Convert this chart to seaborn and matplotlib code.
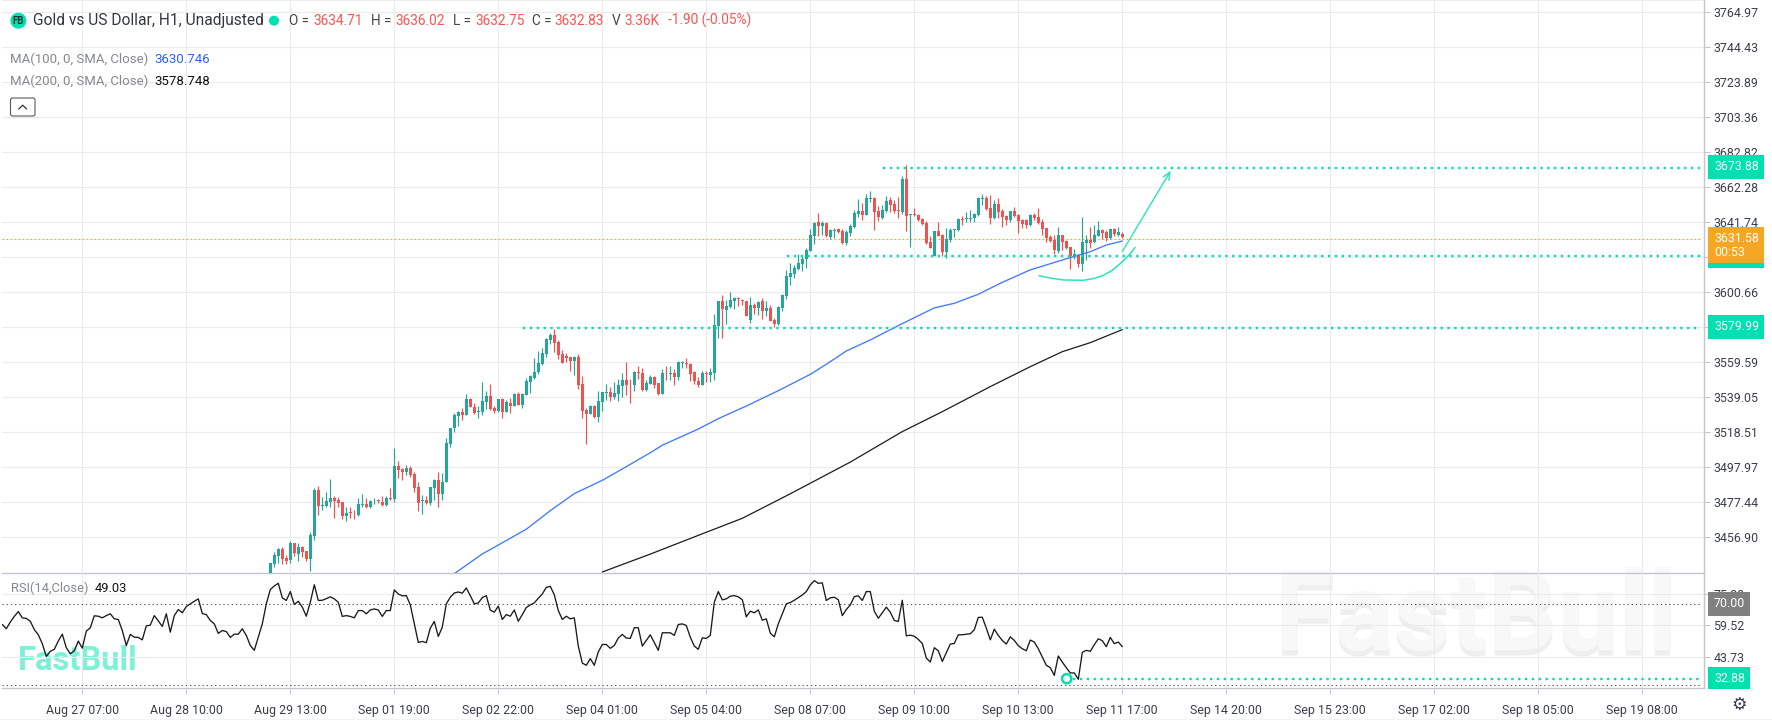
import numpy as np
import pandas as pd
import seaborn as sns
import matplotlib
matplotlib.use("Agg")
import matplotlib.pyplot as plt
from matplotlib.patches import Rectangle, Circle, FancyBboxPatch
import matplotlib.patheffects as pe

# ---------- data: hourly candles (first visible bar = 0) ----------
open_ = [3433.8,3441.2,3445.9,3450.0,3444.9,3443.6,3453.5,3447.1,3451.2,3448.9,
 3444.2,3457.6,3484.6,3475.5,3475.1,3477.6,3479.9,3478.8,3477.6,3469.4,
 3471.7,3471.3,3470.0,3476.0,3476.4,3474.7,3478.0,3478.6,3477.6,3475.9,
 3479.6,3479.6,3498.7,3497.0,3495.2,3497.6,3494.0,3486.4,3478.2,3478.8,
 3477.0,3486.0,3490.5,3482.3,3489.3,3511.6,3521.0,3528.1,3530.4,3528.7,
 3538.0,3533.3,3530.6,3530.4,3536.3,3539.8,3532.8,3531.0,3538.0,3530.4,
 3535.7,3533.9,3541.0,3534.5,3540.4,3548.0,3550.4,3553.9,3558.6,3564.4,
 3572.7,3575.6,3571.5,3564.5,3563.3,3562.7,3560.3,3562.7,3546.9,3531.6,
 3529.2,3533.9,3527.5,3536.3,3541.8,3542.1,3539.0,3541.0,3545.7,3549.2,
 3547.0,3546.3,3553.9,3553.3,3543.3,3546.9,3550.9,3547.4,3541.0,3553.3,
 3552.9,3553.3,3550.9,3559.4,3559.2,3558.6,3553.9,3548.6,3546.3,3553.5,
 3552.1,3553.3,3580.9,3595.6,3590.3,3592.0,3595.6,3597.3,3596.2,3595.6,
 3584.4,3593.2,3591.5,3595.6,3589.7,3591.5,3584.4,3581.9,3591.4,3598.5,
 3609.6,3611.4,3614.3,3617.3,3620.2,3624.9,3633.7,3641.9,3639.6,3641.3,
 3633.1,3636.8,3637.8,3636.7,3629.6,3635.5,3639.0,3646.6,3648.4,3646.0,
 3655.6,3656.0,3648.4,3644.3,3648.4,3654.8,3652.5,3648.9,3647.8,3667.1,
 3646.2,3646.8,3646.0,3643.7,3641.3,3630.2,3622.0,3636.6,3634.3,3624.3,
 3631.4,3637.2,3637.2,3643.7,3643.7,3643.9,3644.3,3646.0,3655.6,3656.0,
 3650.1,3644.3,3652.5,3648.4,3645.4,3643.1,3648.4,3646.0,3643.1,3643.1,
 3640.2,3646.0,3644.9,3641.9,3638.4,3633.1,3631.4,3624.9,3634.3,3630.8,
 3627.2,3621.4,3622.6,3617.3,3629.6,3631.4,3630.2,3633.7,3637.2,3636.1,
 3632.5,3637.8,3634.3,3634.71]
high_ = [3442.0,3448.5,3450.4,3451.0,3446.5,3454.5,3453.7,3453.3,3451.8,3449.0,
 3459.8,3485.6,3486.8,3480.3,3483.7,3490.9,3481.3,3480.7,3477.8,3474.9,
 3474.5,3472.9,3479.8,3482.1,3479.8,3478.8,3479.9,3479.2,3480.9,3480.9,
 3485.6,3509.1,3501.5,3497.4,3499.1,3498.5,3495.0,3489.1,3481.7,3481.1,
 3486.6,3491.1,3495.0,3494.6,3515.0,3521.0,3529.6,3531.0,3532.8,3540.8,
 3538.4,3535.5,3533.9,3547.8,3542.5,3546.7,3533.9,3538.2,3538.8,3537.5,
 3538.4,3541.6,3542.3,3541.6,3550.2,3552.3,3561.9,3566.4,3568.0,3573.6,
 3576.6,3578.9,3572.5,3566.6,3564.8,3562.9,3563.3,3564.2,3551.3,3532.8,
 3534.7,3534.5,3542.5,3542.2,3546.7,3545.3,3547.8,3549.8,3553.1,3559.8,
 3549.8,3554.5,3557.2,3556.2,3549.2,3551.9,3551.5,3547.5,3555.6,3557.2,
 3557.2,3555.6,3560.4,3560.4,3561.9,3559.0,3554.7,3550.9,3554.3,3554.3,
 3556.2,3587.7,3595.6,3599.1,3596.2,3600.6,3597.9,3597.9,3596.7,3595.8,
 3597.9,3594.6,3595.4,3597.5,3595.6,3593.2,3585.6,3592.4,3599.5,3613.8,
 3617.7,3616.7,3623.1,3621.9,3626.5,3637.6,3641.7,3647.0,3642.5,3641.9,
 3637.8,3638.2,3638.4,3637.6,3637.2,3640.7,3649.0,3655.4,3652.9,3658.2,
 3659.9,3656.4,3651.3,3651.9,3657.2,3656.8,3654.8,3656.4,3668.9,3675.4,
 3646.8,3650.0,3646.6,3644.3,3642.5,3633.7,3636.7,3641.9,3634.7,3638.4,
 3638.2,3638.0,3644.3,3645.6,3647.8,3649.0,3647.0,3656.6,3658.4,3657.2,
 3657.6,3654.8,3656.0,3649.5,3646.0,3648.4,3650.7,3646.6,3643.7,3643.7,
 3646.6,3647.0,3650.0,3643.7,3638.5,3634.3,3634.3,3639.0,3634.4,3631.4,
 3627.4,3626.1,3623.1,3644.7,3634.3,3638.8,3640.2,3642.7,3637.6,3637.2,
 3638.0,3638.2,3638.8,3636.02]
low_ = [3430.0,3439.6,3441.6,3441.2,3441.2,3442.0,3445.9,3443.2,3445.5,3443.2,
 3437.3,3455.3,3470.0,3472.9,3474.5,3474.5,3468.2,3474.9,3467.8,3466.6,
 3468.2,3467.8,3469.6,3474.5,3474.1,3474.3,3476.6,3477.2,3475.3,3475.5,
 3478.8,3477.6,3491.7,3490.5,3493.5,3492.5,3483.5,3472.3,3470.6,3476.4,
 3475.8,3478.8,3474.7,3478.8,3489.1,3509.9,3518.7,3522.2,3525.7,3528.6,
 3533.1,3529.2,3526.9,3528.7,3532.2,3531.6,3529.8,3530.6,3526.9,3530.2,
 3529.8,3533.8,3534.3,3532.6,3540.3,3541.6,3549.8,3552.7,3558.0,3562.9,
 3570.3,3565.6,3561.5,3559.1,3559.8,3554.5,3552.3,3543.9,3526.9,3511.6,
 3529.1,3526.9,3524.5,3531.0,3537.5,3536.9,3538.0,3536.9,3539.4,3540.4,
 3535.7,3542.7,3549.8,3542.9,3542.9,3546.8,3544.5,3540.4,3540.9,3549.2,
 3549.2,3546.3,3549.2,3556.2,3556.2,3548.6,3546.9,3545.1,3546.1,3548.2,
 3548.2,3549.2,3573.8,3573.8,3582.1,3591.4,3590.9,3592.6,3593.0,3586.6,
 3582.7,3587.9,3587.3,3585.0,3586.8,3583.6,3580.1,3581.3,3589.7,3596.7,
 3605.0,3609.1,3613.8,3613.2,3614.9,3624.8,3629.0,3633.7,3634.3,3633.1,
 3632.0,3632.5,3635.5,3629.0,3628.4,3633.7,3638.4,3644.9,3643.1,3645.9,
 3653.7,3637.2,3642.5,3643.7,3647.8,3647.6,3647.0,3644.3,3646.6,3636.6,
 3627.4,3645.4,3642.5,3640.2,3629.0,3626.5,3621.9,3633.5,3622.0,3620.8,
 3630.2,3632.9,3636.6,3640.2,3641.9,3641.9,3641.9,3645.4,3651.9,3649.0,
 3640.7,3643.7,3644.3,3639.0,3640.2,3641.9,3644.9,3635.5,3638.4,3638.4,
 3639.6,3643.1,3640.7,3634.3,3630.2,3630.2,3623.1,3623.5,3625.5,3626.1,
 3614.3,3620.2,3615.5,3613.2,3619.6,3626.7,3629.6,3633.6,3631.9,3631.0,
 3632.1,3633.7,3633.7,3632.75]
close_ = [3441.6,3446.5,3450.0,3444.2,3443.0,3453.7,3447.9,3451.2,3448.5,3444.2,
 3458.2,3484.6,3475.5,3475.9,3478.2,3479.9,3478.2,3477.0,3469.6,3471.1,
 3471.3,3470.9,3476.4,3476.4,3474.5,3478.2,3478.4,3478.4,3475.7,3479.9,
 3479.2,3498.7,3496.4,3495.2,3497.6,3493.5,3485.8,3477.2,3478.6,3476.8,
 3486.4,3490.5,3482.3,3489.3,3512.2,3521.0,3528.7,3530.4,3528.7,3538.0,
 3533.5,3529.8,3531.0,3536.9,3539.8,3532.2,3531.0,3538.0,3530.4,3536.3,
 3533.9,3541.0,3534.5,3541.0,3548.6,3551.5,3553.9,3559.2,3565.0,3573.2,
 3575.6,3570.9,3563.9,3559.2,3562.1,3560.3,3562.7,3546.3,3531.0,3529.2,
 3533.9,3527.5,3536.9,3542.1,3542.1,3539.2,3541.6,3546.3,3549.2,3546.3,
 3546.6,3553.9,3553.5,3543.3,3547.4,3550.9,3546.3,3541.0,3553.3,3553.1,
 3553.3,3550.9,3559.8,3559.8,3558.8,3552.7,3548.6,3546.3,3553.3,3552.9,
 3553.9,3581.5,3595.6,3590.9,3592.6,3596.2,3597.3,3596.9,3595.8,3586.8,
 3593.2,3591.5,3595.0,3589.7,3591.5,3583.8,3582.1,3592.0,3599.1,3610.2,
 3612.0,3614.9,3617.9,3620.2,3625.5,3634.3,3641.3,3639.6,3641.3,3633.7,
 3637.2,3637.2,3636.1,3629.6,3636.1,3639.6,3647.2,3648.4,3646.0,3656.0,
 3656.0,3647.8,3644.9,3648.9,3654.3,3651.9,3648.4,3648.4,3667.1,3645.6,
 3646.8,3646.2,3643.1,3640.7,3629.6,3626.7,3636.6,3633.7,3624.3,3631.9,
 3637.2,3637.6,3643.7,3643.3,3644.1,3644.3,3646.6,3656.0,3656.0,3649.5,
 3644.3,3652.5,3647.8,3644.9,3643.1,3648.4,3645.4,3642.5,3640.7,3640.2,
 3646.0,3644.3,3641.3,3637.8,3632.5,3630.8,3625.5,3634.3,3630.2,3626.7,
 3622.0,3623.1,3617.3,3630.2,3631.4,3629.6,3634.3,3637.2,3635.5,3632.5,
 3637.8,3634.9,3636.1,3632.83]

ma100_bar = [46,53,56,64,70,76,83,89,95,98,107,112,119,127,135,139,144,150,157,162,166,171,177,183,190,198,205,209,213]
ma100_val = [3435.5,3447.1,3451.0,3461.6,3472.5,3482.5,3490.3,3498.3,3506.5,3510.9,3520.4,3526.5,3533.9,3542.9,
             3552.5,3558.4,3566.2,3572.7,3581.1,3586.9,3591.5,3594.2,3599.5,3606.5,3613.8,3619.6,3624.5,3628.4,3630.746]
ma200_bar = [83,95,107,118,130,145,158,168,180,190,198,205,213]
ma200_val = [3436.5,3447.0,3458.0,3468.0,3482.4,3501.0,3518.9,3530.6,3545.3,3557.0,3565.8,3571.1,3578.748]

rsi_first_bar = -67
rsi_val = [60.0,57.9,61.2,64.0,66.4,63.3,63.0,61.6,57.5,54.9,
 50.5,44.2,46.7,47.7,51.8,55.2,48.5,45.5,47.0,51.8,
 48.3,56.7,58.4,64.3,64.1,63.3,64.4,65.3,62.8,62.5,
 57.0,49.6,55.1,53.7,53.6,52.4,59.3,59.7,64.4,61.8,
 59.0,65.3,56.2,64.4,67.4,65.8,68.9,70.2,71.5,72.7,
 65.4,64.9,62.0,60.3,55.6,57.0,56.5,53.6,55.2,55.2,
 57.9,54.6,49.6,47.2,53.7,60.3,70.2,77.3,79.1,80.4,
 73.2,71.9,76.3,69.9,71.5,68.6,64.1,71.0,79.7,71.9,
 72.0,72.8,73.7,72.7,71.0,64.0,64.4,64.0,63.3,66.9,
 66.9,65.3,67.2,67.7,67.2,64.0,66.9,66.9,77.1,75.1,
 74.2,74.3,69.7,60.3,51.1,51.6,51.0,58.2,61.5,54.1,
 58.7,70.2,73.5,75.6,76.1,75.5,78.1,74.3,70.2,70.7,
 73.3,74.3,67.1,66.1,69.1,62.5,64.9,64.1,67.2,61.6,
 64.9,68.4,69.7,70.7,73.0,75.1,78.4,78.9,74.7,66.9,
 62.5,64.1,62.8,63.3,49.3,40.9,39.8,43.1,39.8,46.4,
 50.1,50.1,48.2,49.6,53.3,55.1,53.3,53.1,58.4,58.4,
 49.3,52.1,54.9,51.0,47.2,55.9,55.9,55.9,54.6,60.0,
 60.3,59.5,53.7,49.3,47.7,53.4,53.1,54.6,71.0,76.3,
 72.2,72.7,74.0,74.3,73.7,72.3,63.8,66.6,65.8,67.2,
 62.1,62.8,55.7,53.9,60.3,65.3,70.2,70.9,72.0,73.3,
 74.6,76.3,79.6,81.7,80.4,80.6,71.9,73.2,73.5,72.3,
 64.4,67.4,69.7,73.8,74.2,71.9,76.3,76.3,66.6,63.1,
 65.8,68.6,66.1,62.0,61.5,72.0,54.4,54.7,54.2,52.6,
 50.6,43.4,41.4,48.5,47.0,41.7,46.0,50.3,50.6,54.9,
 54.9,55.2,55.4,57.4,63.5,63.6,58.2,52.4,57.7,54.6,
 52.1,50.3,53.9,52.1,49.5,48.0,47.0,52.3,51.3,48.0,
 43.9,39.8,38.6,34.8,44.4,41.4,38.6,36.0,36.0,32.88,
 46.2,47.2,46.7,50.0,52.9,52.0,49.0,53.6,50.5,51.3,49.03]

price_ticks = [3764.97,3744.43,3723.89,3703.36,3682.82,3662.28,3641.74,3621.20,3600.66,3580.12,
               3559.59,3539.05,3518.51,3497.97,3477.44,3456.90]
rsi_ticks = [75.30,59.52,43.73]
time_bars = [-47,-21,5,31,57,83,109,135,161,187,213,239,265,291,317,343]
time_labels = ["Aug 27 07:00","Aug 28 10:00","Aug 29 13:00","Sep 01 19:00","Sep 02 22:00","Sep 04 01:00",
               "Sep 05 04:00","Sep 08 07:00","Sep 09 10:00","Sep 10 13:00","Sep 11 17:00","Sep 14 20:00",
               "Sep 15 23:00","Sep 17 02:00","Sep 18 05:00","Sep 19 08:00"]

levels = [3673.88, 3621.97, 3579.99]
level_start_bar = [153.1, 129.2, 63.25]
level_end_bar = 357.5
last_price_line = 3632.2
curve_bar = [192.2,195,198.25,203.25,206,208.25,210.5,212.4,214,215.2,216.2]
curve_val = [3610.4,3609.0,3607.9,3607.7,3608.8,3610.6,3613.6,3617.3,3621.0,3623.9,3627.0]
arrow_bar = [213, 225.1]
arrow_val = [3624.5, 3672.0]
rsi_low_bar = 199.1
rsi_low_level = 33.2

# ---------- style ----------
GREEN, RED = "#26a69a", "#ef5350"
ACC = "#00e0b0"
GRID = "#ebebeb"
AXL = "#c3c6d0"
W, H = 1772, 720
sns.set_theme(style="white", rc={"axes.facecolor": "none", "figure.facecolor": "white"})
plt.rcParams["font.family"] = ["Roboto", "DejaVu Sans"]

fig = plt.figure(figsize=(W/100, H/100), dpi=100)
bg = fig.add_axes([0, 0, 1, 1], zorder=-1)
bg.set_xlim(0, W); bg.set_ylim(H, 0); bg.axis("off")
L, R = 2, 1703.5
YM, YB = 572.5, 688.3
ax = fig.add_axes([L/W, (H-YM)/H, (R-L)/W, YM/H], zorder=1)
ar = fig.add_axes([L/W, (H-YB)/H, (R-L)/W, (YB-YM)/H], zorder=1)
ov = fig.add_axes([0, 0, 1, 1], zorder=5)
ov.set_xlim(0, W); ov.set_ylim(H, 0); ov.axis("off")

TICK = 8.9
xlim = ((L-270.3)/4, (R-270.3)/4)
for a in (ax, ar):
    a.set_xlim(*xlim)
    a.set_xticks(time_bars)
    a.grid(True, color=GRID, lw=0.8, zorder=0)
    a.set_axisbelow(True)
    a.yaxis.tick_right()
    for s in ("left", "top"):
        a.spines[s].set_visible(False)
    for s in ("right", "bottom"):
        a.spines[s].set_color(AXL); a.spines[s].set_linewidth(1.0)
    a.tick_params(axis="y", length=4, width=0.8, color=AXL, labelsize=TICK, labelcolor="#3a3e4a", pad=3, right=True)

# ---------- candles ----------
bars = np.arange(len(open_))
o, h, l, c = map(np.array, (open_, high_, low_, close_))
cols = np.where(c >= o, GREEN, RED)
ax.set_ylim(3436.2, 3772.2)
ax.vlines(bars, l, h, colors=cols, lw=0.85, zorder=3)
ax.bar(bars, np.maximum(np.abs(c-o), 0.45), bottom=np.minimum(o, c), width=0.76, color=cols, linewidth=0, zorder=3)

ma100 = pd.DataFrame({"bar": ma100_bar, "value": ma100_val})
ma200 = pd.DataFrame({"bar": ma200_bar, "value": ma200_val})
sns.lineplot(data=ma100, x="bar", y="value", ax=ax, color="#4079ff", lw=0.95, estimator=None, sort=False, zorder=4)
sns.lineplot(data=ma200, x="bar", y="value", ax=ax, color="#1c1c1c", lw=0.9, estimator=None, sort=False, zorder=4)

for v, s in zip(levels, level_start_bar):
    ax.hlines(v, s, level_end_bar, colors=ACC, lw=1.7, linestyles=(0, (1, 1.9)), zorder=5)
ax.hlines(last_price_line, xlim[0], level_end_bar, colors="#f5a623", lw=0.8, linestyles=(0, (1.7, 1.9)), zorder=2)

curve = pd.DataFrame({"bar": curve_bar, "value": curve_val})
sns.lineplot(data=curve, x="bar", y="value", ax=ax, color="#2ce3bd", lw=1.1, estimator=None, sort=False, zorder=6)
ax.annotate("", xy=(arrow_bar[1], arrow_val[1]), xytext=(arrow_bar[0], arrow_val[0]),
            arrowprops=dict(arrowstyle="->,head_length=0.45,head_width=0.2", color="#2ce3bd", lw=1.0, shrinkA=0, shrinkB=0), zorder=6)

ax.set_yticks(price_ticks)
ax.set_yticklabels([f"{t:.2f}" for t in price_ticks])
ax.tick_params(axis="x", length=0, labelbottom=False)
ax.set_xlabel(""); ax.set_ylabel("")

# ---------- RSI ----------
rsi = pd.DataFrame({"bar": np.arange(len(rsi_val)) + rsi_first_bar, "value": rsi_val})
ar.set_ylim(28.4, 85.75)
sns.lineplot(data=rsi, x="bar", y="value", ax=ar, color="#1a1a1a", lw=0.95, estimator=None, sort=False, zorder=4)
ar.hlines([70, 30], xlim[0], level_end_bar, colors="#555555", lw=0.75, linestyles=(0, (1.3, 2.7)), zorder=2)
ar.hlines(rsi_low_level, rsi_low_bar + 1.5, level_end_bar, colors=ACC, lw=1.7, linestyles=(0, (1, 1.9)), zorder=5)
ar.set_yticks(rsi_ticks)
ar.set_yticklabels([f"{t:.2f}" for t in rsi_ticks])
ar.set_xticklabels(time_labels)
ar.tick_params(axis="x", length=4.5, width=0.8, color=AXL, labelsize=TICK, labelcolor="#3a3e4a", pad=7, bottom=True)
ar.set_xlabel(""); ar.set_ylabel("")
ar.add_patch(Circle((rsi_low_bar * 4 + 270.3, 678.7), 4.6, transform=ov.transData, fc="white", ec=ACC, lw=1.8, zorder=7, clip_on=False))

# ---------- watermarks ----------
big = bg.text(1476, 650, "FastBull", fontsize=79, fontweight="bold", color="#f8f8f8", ha="center", va="baseline")
big.set_path_effects([pe.withSimplePatchShadow(offset=(0, -4), shadow_rgbFace="#cccccc", alpha=0.3), pe.Normal()])
bg.text(78, 670, "FastBull", fontsize=23.5, fontweight="bold", color="#7df0d8", ha="center", va="baseline")

# ---------- text and axis labels ----------
def t(x, y, s, color="#3a3e4a", size=9.5, **kw):
    ov.text(x, y, s, color=color, fontsize=size, va="center", ha=kw.pop("ha", "left"), **kw)

ov.add_patch(Circle((18.4, 20.7), 8, fc=ACC, ec="none"))
t(18.4, 21, "FB", color="#1b3a34", size=7, ha="center", fontweight="bold")
t(32.7, 20.7, "Gold vs US Dollar, H1, Unadjusted", size=11.2, color="#333740")
ov.add_patch(Circle((274, 20.7), 5, fc=ACC, ec="none"))
RV = "#ff5252"
for x, s, col in [(288.8, "O =", "#444"), (313, "3634.71", RV), (371, "H =", "#444"), (395.4, "3636.02", RV),
                  (452.6, "L =", "#444"), (475, "3632.75", RV), (531.6, "C =", "#444"), (554.6, "3632.83", RV),
                  (612, "V", "#444"), (624.5, "3.36K", RV), (668.4, "-1.90 (-0.05%)", RV)]:
    t(x, 20.7, s, color=col, size=9.8)
t(10.2, 59.3, "MA(100, 0, SMA, Close)", color="#85888f", size=9.5)
t(154.6, 59.3, "3630.746", color="#2962ff", size=9.5)
t(10.2, 81.7, "MA(200, 0, SMA, Close)", color="#85888f", size=9.5)
t(154.6, 81.7, "3578.748", color="#111111", size=9.5)
ov.add_patch(FancyBboxPatch((10.5, 98), 24.5, 18, boxstyle="round,pad=0,rounding_size=2", fc="white", ec="#555a62", lw=0.8))
ov.plot([18.8, 22.7, 26.6], [109, 105.2, 109], color="#333333", lw=0.9)
t(10.7, 588.7, "RSI(14,Close)", color="#85888f", size=9.3)
t(95, 588.7, "49.03", color="#111111", size=9.3)

def tag(y0, y1, col, x1=1764):
    ov.add_patch(Rectangle((1708, y0), x1-1708, y1-y0, fc=col, ec="none", zorder=3))

tag(155, 179, ACC);  t(1714, 166.5, "3673.88", color="white", zorder=4, size=TICK)
tag(315, 338.7, ACC); t(1714, 327, "3579.99", color="white", zorder=4, size=TICK)
tag(244, 267.7, ACC)
tag(227, 263.3, "#f5a623")
t(1714, 238.3, "3631.58", color="white", zorder=4, size=TICK)
t(1714, 252.3, "00:53", color="white", zorder=4, size=TICK)
tag(592, 615.7, "#808080", x1=1750); t(1714, 603.5, "70.00", color="white", zorder=4, size=TICK)
tag(667, 689, ACC, x1=1750);        t(1714, 678.5, "32.88", color="white", zorder=4, size=TICK)
ov.text(1739, 705, "\u2699", fontsize=12.5, color="#3a3e4a", ha="center", va="center", family="DejaVu Sans")
ov.add_patch(Rectangle((0, 718.5), W, 1.5, fc="#f3f3f3", ec="none"))
ov.add_patch(Rectangle((2, 0), R-2, 1.2, fc="#eeeeee", ec="none"))
ov.set_xlim(0, W); ov.set_ylim(H, 0)

fig.savefig("out.png", dpi=100)
